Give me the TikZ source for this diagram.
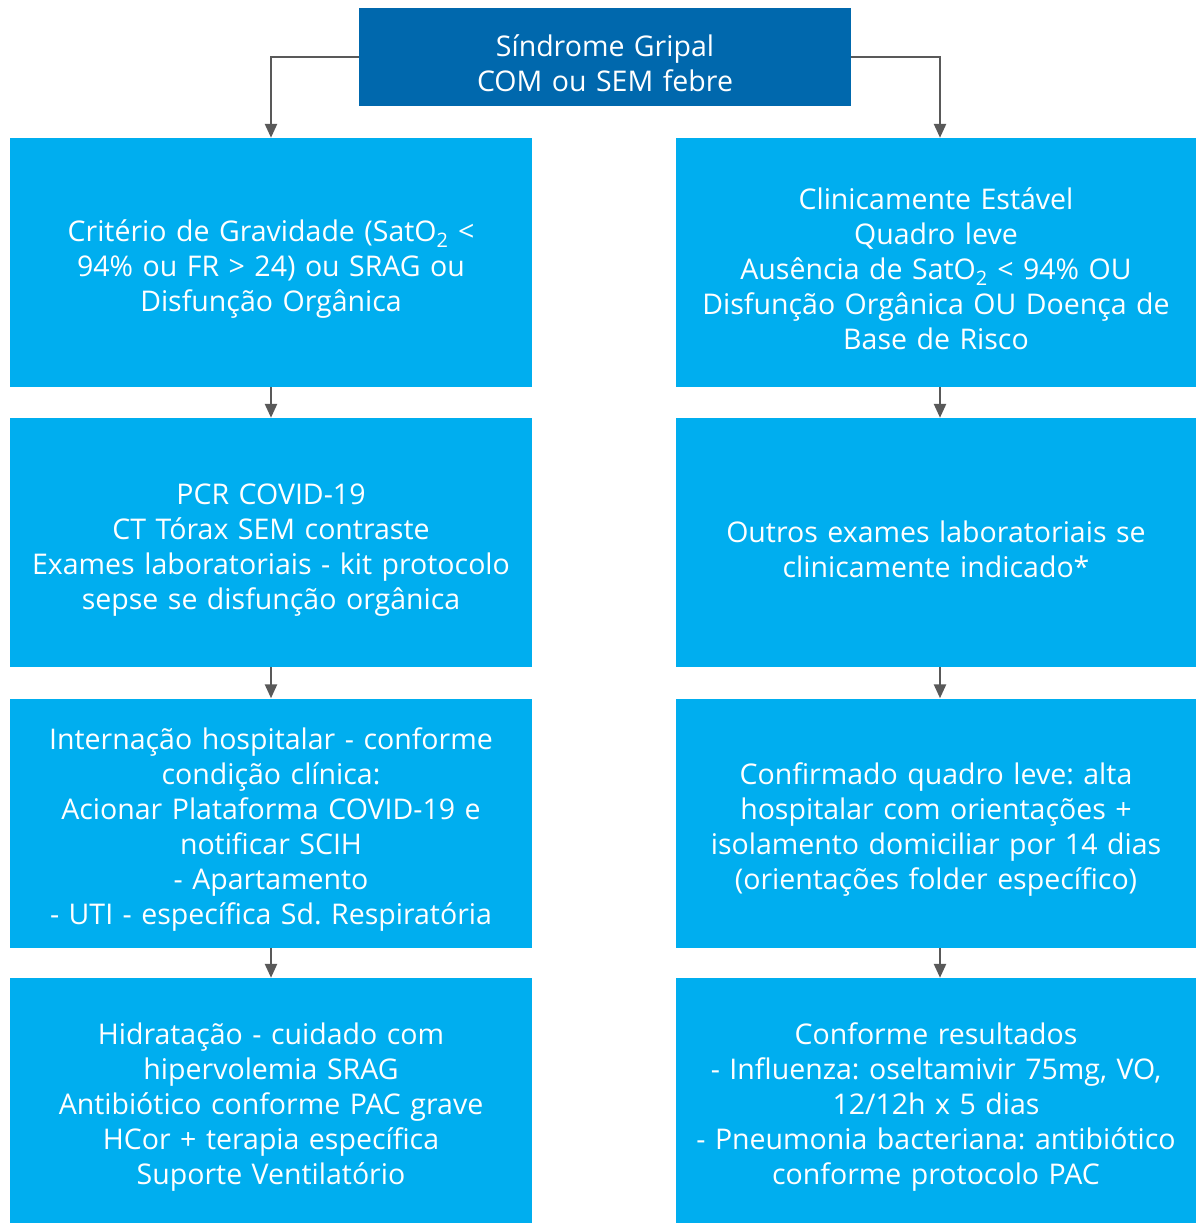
\documentclass[tikz,border=0pt]{standalone}
\usepackage{fontspec}
\setmainfont{Open Sans}
\usetikzlibrary{arrows.meta}
\definecolor{darkblue}{HTML}{0068AD}
\definecolor{lightblue}{HTML}{00AEEF}
\definecolor{linegray}{HTML}{595959}

\begin{document}
\begin{tikzpicture}[x=1pt,y=-1pt]
            \tikzstyle{head} = [rectangle, fill=darkblue, text=white, text width=480pt, align=center, minimum width=492pt, minimum height=98pt, inner sep=0pt, font=\fontsize{28.5}{35}\selectfont\frenchspacing, execute at begin node={\rule{0pt}{35pt}}]
            \tikzstyle{stepbox} = [rectangle, fill=lightblue, text=white, text width=510pt, align=center, minimum width=522pt, minimum height=249pt, inner sep=0pt, font=\fontsize{28.5}{35}\selectfont\frenchspacing, execute at begin node={\rule{0pt}{35pt}}]
            \tikzstyle{arrow} = [line width=2.5pt, draw=linegray, -{Triangle[length=14pt,width=12pt]}]

            \useasboundingbox (0,0) rectangle (1196,1223);

            \node (sindrome) [head] at (605,57) {Síndrome Gripal\\COM ou SEM febre};

            \node (gravidade) [stepbox] at (271,262.5) {Critério de Gravidade (SatO\textsubscript{2} <\\94\% ou FR > 24) ou SRAG ou\\Disfunção Orgânica};
            \node (pcr) [stepbox] at (271,542.5) {PCR COVID-19\\CT Tórax SEM contraste\\Exames laboratoriais - kit protocolo\\sepse se disfunção orgânica};
            \node (internacao) [stepbox] at (271,823) {Internação hospitalar - conforme\\condição clínica:\\Acionar Plataforma COVID-19 e\\notificar SCIH\\- Apartamento\\- UTI - específica Sd. Respiratória};
            \node (hidratacao) [stepbox, minimum height=245pt] at (271,1100.5) {Hidratação - cuidado com\\hipervolemia SRAG\\Antibiótico conforme PAC grave\\HCor + terapia específica\\Suporte Ventilatório};

            \node (estavel) [stepbox, minimum width=520pt] at (936,262.5) {Clinicamente Estável\\Quadro leve\\Ausência de SatO\textsubscript{2} < 94\% OU\\Disfunção Orgânica OU Doença de\\Base de Risco};
            \node (exames) [stepbox, minimum width=520pt] at (936,542.5) {Outros exames laboratoriais se\\clinicamente indicado*};
            \node (alta) [stepbox, minimum width=520pt] at (936,823) {Confirmado quadro leve: alta\\hospitalar com orientações +\\isolamento domiciliar por 14 dias\\(orientações folder específico)};
            \node (resultados) [stepbox, minimum width=520pt, minimum height=245pt] at (936,1100.5) {Conforme resultados\\- Influenza: oseltamivir 75mg, VO,\\12/12h x 5 dias\\- Pneumonia bacteriana: antibiótico\\conforme protocolo PAC};

            \draw [arrow] (sindrome.west) -| (gravidade.north);
            \draw [arrow] (sindrome.east) -| ([xshift=4pt]estavel.north);
            \draw [arrow] (gravidade) -- (pcr);
            \draw [arrow] (pcr) -- (internacao);
            \draw [arrow] (internacao) -- (hidratacao);
            \draw [arrow] ([xshift=4pt]estavel.south) -- ([xshift=4pt]exames.north);
            \draw [arrow] ([xshift=4pt]exames.south) -- ([xshift=4pt]alta.north);
            \draw [arrow] ([xshift=4pt]alta.south) -- ([xshift=4pt]resultados.north);
        \end{tikzpicture}
\end{document}
